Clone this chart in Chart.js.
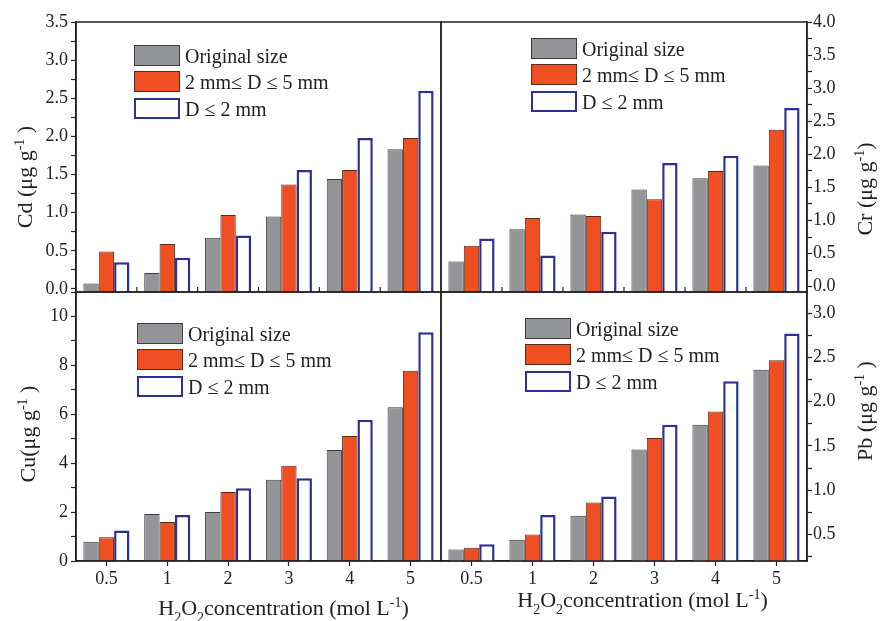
<!DOCTYPE html>
<html>
<head>
<meta charset="utf-8">
<title>Metal release vs H2O2 concentration</title>
<script src="https://cdn.jsdelivr.net/npm/chart.js@4.4.1/dist/chart.umd.min.js"></script>
<style>
  body { margin: 0; background: #fff; }
  #figure { position: relative; width: 880px; height: 621px; }
  #figure canvas { position: absolute; left: 0; top: 0; }
  .legend { position: absolute; font-family: 'Liberation Serif', 'Times New Roman', serif; font-size: 20px; color: #222; }
  .legend .row { display: flex; align-items: flex-start; height: 26.3px; white-space: nowrap; }
  .legend .box { box-sizing: border-box; width: 46px; height: 21px; }
  .legend .text { margin-left: 5px; line-height: 21px; position: relative; top: 1px; }
</style>
</head>
<body>
<div id="figure">
  <canvas id="cdChart" width="880" height="621"></canvas>
  <canvas id="crChart" width="880" height="621"></canvas>
  <canvas id="cuChart" width="880" height="621"></canvas>
  <canvas id="pbChart" width="880" height="621"></canvas>
  <div class="legend" id="cdLegend" style="left:134px; top:45px"></div>
  <div class="legend" id="crLegend" style="left:531px; top:38px"></div>
  <div class="legend" id="cuLegend" style="left:137px; top:323px"></div>
  <div class="legend" id="pbLegend" style="left:525px; top:318px"></div>
</div>
<script>
// Concentraciones de H2O2 (mol/L)
const concentrations = ["0.5", "1", "2", "3", "4", "5"];
const sizeLabels = ["Original size", "2 mm\u2264 D \u2264 5 mm", "D \u2264 2 mm"];

// Cd (ug/g)
const cdOriginal = [0.07, 0.21, 0.67, 0.95, 1.44, 1.83];
const cdMedium = [0.49, 0.59, 0.97, 1.37, 1.56, 1.98];
const cdFine = [0.35, 0.41, 0.70, 1.56, 1.98, 2.60];

// Cr (ug/g)
const crOriginal = [0.38, 0.87, 1.09, 1.47, 1.64, 1.83];
const crMedium = [0.62, 1.04, 1.07, 1.32, 1.75, 2.37];
const crFine = [0.73, 0.47, 0.83, 1.87, 1.98, 2.70];

// Cu (ug/g)
const cuOriginal = [0.79, 1.92, 2.00, 3.32, 4.54, 6.29];
const cuMedium = [0.97, 1.59, 2.82, 3.90, 5.11, 7.78];
const cuFine = [1.25, 1.88, 2.97, 3.38, 5.78, 9.35];

// Pb (ug/g)
const pbOriginal = [0.33, 0.44, 0.71, 1.46, 1.74, 2.36];
const pbMedium = [0.35, 0.50, 0.86, 1.59, 1.89, 2.47];
const pbFine = [0.39, 0.72, 0.93, 1.74, 2.23, 2.77];

const serif = "'Liberation Serif', 'Times New Roman', serif";
Chart.defaults.font.family = serif;
Chart.defaults.color = "#222";

// Estilos de las series
const seriesStyles = [
  { backgroundColor: "#939598", borderColor: "#3c3c3c", borderWidth: 1, legendBorder: 1.5 },
  { backgroundColor: "#f04e23", borderColor: "#5b2b1c", borderWidth: 1, legendBorder: 1.5 },
  { backgroundColor: "#ffffff", borderColor: "#2e3192", borderWidth: 2.5, legendBorder: 2.5 },
];

// Texto con subindices / superindices
function richText(ctx, parts, x, y, rotate) {
  ctx.save();
  ctx.translate(x, y);
  if (rotate) ctx.rotate(-Math.PI / 2);
  ctx.textAlign = "left";
  ctx.textBaseline = "alphabetic";
  ctx.fillStyle = "#222";
  const fontFor = (p) => (p.sup || p.sub ? "14px " : "22px ") + serif;
  let w = 0;
  parts.forEach((p) => {
    ctx.font = fontFor(p);
    w += ctx.measureText(p.t).width;
  });
  let cx = -w / 2;
  parts.forEach((p) => {
    ctx.font = fontFor(p);
    const dy = p.sup ? -8 : p.sub ? 7 : 0;
    ctx.fillText(p.t, cx, dy);
    cx += ctx.measureText(p.t).width;
  });
  ctx.restore();
}

// Marco, ticks interiores y titulos de ejes
function framePlugin(titles, innerTicks) {
  return {
    id: "frame",
    afterDraw(chart) {
      const { ctx, chartArea: a, scales } = chart;
      ctx.save();
      ctx.strokeStyle = "#222";
      ctx.lineWidth = 1.5;
      ctx.strokeRect(a.left, a.top, a.right - a.left, a.bottom - a.top);
      if (innerTicks) {
        ctx.lineWidth = 1.2;
        for (let i = 1; i < concentrations.length; i++) {
          const px = (scales.x.getPixelForValue(i - 1) + scales.x.getPixelForValue(i)) / 2;
          ctx.beginPath();
          ctx.moveTo(px, a.bottom);
          ctx.lineTo(px, a.bottom - 5);
          ctx.stroke();
        }
      }
      ctx.restore();
      titles.forEach((t) => richText(ctx, t.parts, t.x, t.y, t.rotate));
    },
  };
}

function makeChart(id, series, cfg) {
  const ctx = document.getElementById(id).getContext("2d");
  const isMajor = (v) => Math.abs(v / cfg.major - Math.round(v / cfg.major)) < 1e-6;
  return new Chart(ctx, {
    type: "bar",
    data: {
      labels: concentrations,
      datasets: series.map((values, i) => ({
        label: sizeLabels[i],
        data: values,
        ...seriesStyles[i],
        base: cfg.min,
        categoryPercentage: 0.757,
        barPercentage: 1.0,
      })),
    },
    options: {
      responsive: false,
      animation: false,
      devicePixelRatio: 1,
      layout: { padding: cfg.padding },
      plugins: { legend: { display: false }, tooltip: { enabled: false } },
      scales: {
        x: {
          display: cfg.showX,
          offset: true,
          ticks: { autoSkip: false, maxRotation: 0, padding: 2, font: { size: 18 }, color: "#222" },
          grid: { offset: false, drawOnChartArea: false, tickLength: 5, tickColor: "#222", tickWidth: 1.2 },
          border: { display: true, color: "#222", width: 1.5 },
          afterFit: (s) => { s.height = cfg.showX ? 60 : 0; },
        },
        y: {
          position: cfg.side,
          min: cfg.min,
          max: cfg.max,
          ticks: {
            stepSize: cfg.step,
            autoSkip: false,
            includeBounds: false,
            padding: cfg.side === "left" ? 3 : 1,
            font: { size: 18 },
            color: "#222",
            callback: (v) => (isMajor(v) ? v.toFixed(cfg.decimals) : ""),
          },
          grid: { drawOnChartArea: false, tickLength: 5, tickColor: "#222", tickWidth: 1.2 },
          border: { display: true, color: "#222", width: 1.5 },
          afterFit: (s) => { s.width = cfg.axisWidth; },
        },
      },
    },
    plugins: [framePlugin(cfg.titles, !cfg.showX)],
  });
}

// Leyenda HTML
function buildLegend(chart, elId) {
  const el = document.getElementById(elId);
  chart.data.datasets.forEach((ds) => {
    const row = document.createElement("div");
    row.className = "row";
    const box = document.createElement("span");
    box.className = "box";
    box.style.background = ds.backgroundColor;
    box.style.border = ds.legendBorder + "px solid " + ds.borderColor;
    const text = document.createElement("span");
    text.className = "text";
    text.textContent = ds.label;
    row.appendChild(box);
    row.appendChild(text);
    el.appendChild(row);
  });
}

const sup = (t) => ({ t, sup: true });
const sub = (t) => ({ t, sub: true });
const xTitle = [{ t: "H" }, sub("2"), { t: "O" }, sub("2"), { t: "concentration (mol L" }, sup("-1"), { t: ")" }];

const cdChart = makeChart("cdChart", [cdOriginal, cdMedium, cdFine], {
  padding: { left: 0, top: 22, right: 439, bottom: 329 },
  side: "left", axisWidth: 76, showX: false,
  min: -0.04, max: 3.5, step: 0.25, major: 0.5, decimals: 1,
  titles: [{ parts: [{ t: "Cd (\u03bcg g" }, sup("-1"), { t: " )" }], x: 32, y: 177, rotate: true }],
});

const crChart = makeChart("crChart", [crOriginal, crMedium, crFine], {
  padding: { left: 441, top: 22, right: 0, bottom: 329 },
  side: "right", axisWidth: 73, showX: false,
  min: -0.08, max: 4.0, step: 0.25, major: 0.5, decimals: 1,
  titles: [{ parts: [{ t: "Cr (\u03bcg g" }, sup("-1"), { t: ")" }], x: 872, y: 189, rotate: true }],
});

const cuChart = makeChart("cuChart", [cuOriginal, cuMedium, cuFine], {
  padding: { left: 0, top: 292, right: 439, bottom: 0 },
  side: "left", axisWidth: 76, showX: true,
  min: 0, max: 11, step: 1, major: 2, decimals: 0,
  titles: [
    { parts: [{ t: "Cu(\u03bcg g" }, sup("-1"), { t: " )" }], x: 35, y: 434, rotate: true },
    { parts: xTitle, x: 283.5, y: 615, rotate: false },
  ],
});

const pbChart = makeChart("pbChart", [pbOriginal, pbMedium, pbFine], {
  padding: { left: 441, top: 292, right: 0, bottom: 0 },
  side: "right", axisWidth: 73, showX: true,
  min: 0.2, max: 3.24, step: 0.25, major: 0.5, decimals: 1,
  titles: [
    { parts: [{ t: "Pb (\u03bcg g" }, sup("-1"), { t: " )" }], x: 872, y: 411, rotate: true },
    { parts: xTitle, x: 642.5, y: 607, rotate: false },
  ],
});

buildLegend(cdChart, "cdLegend");
buildLegend(crChart, "crLegend");
buildLegend(cuChart, "cuLegend");
buildLegend(pbChart, "pbLegend");
</script>
</body>
</html>
